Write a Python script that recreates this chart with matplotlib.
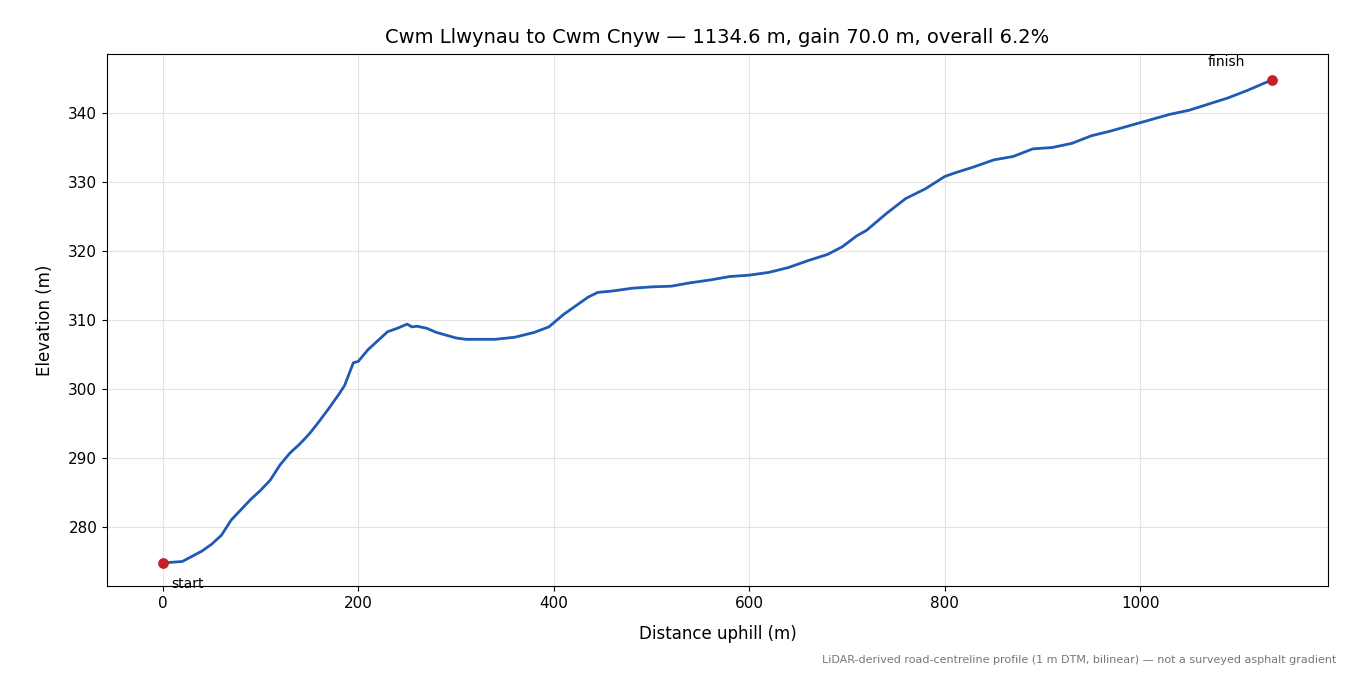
import matplotlib
matplotlib.use("Agg")
import matplotlib.pyplot as plt

dist = [0,20,40,50,60,70,80,90,100,110,120,130,140,150,160,170,180,186,195,200,210,220,230,240,250,255,260,270,280,290,300,310,320,340,360,380,395,410,420,435,445,460,480,500,520,540,560,580,600,620,640,660,680,695,710,720,740,760,780,800,810,830,850,870,890,910,930,950,970,990,1010,1030,1050,1070,1090,1110,1134.6]
elev = [274.8,275.0,276.5,277.5,278.8,281,282.5,284,285.3,286.8,289,290.7,292,293.5,295.3,297.2,299.2,300.5,303.8,304,305.7,307,308.3,308.8,309.4,309.0,309.1,308.8,308.2,307.8,307.4,307.2,307.2,307.2,307.5,308.2,309,310.8,311.8,313.3,314,314.2,314.6,314.8,314.9,315.4,315.8,316.3,316.5,316.9,317.6,318.6,319.5,320.6,322.2,323,325.4,327.6,329,330.8,331.3,332.2,333.2,333.7,334.8,335,335.6,336.7,337.4,338.2,339,339.8,340.4,341.3,342.2,343.3,344.8]

fig = plt.figure(figsize=(13.5, 6.75), dpi=100)
ax = fig.add_axes([107/1350, 1-586/675, (1328-107)/1350, (586-54)/675])
ax.plot(dist, elev, color="#1f5bb5", lw=2)
ax.scatter([dist[0], dist[-1]], [elev[0], elev[-1]], color="#c62026", s=45, zorder=5)
ax.annotate("start", (dist[0], elev[0]), xytext=(6, -18), textcoords="offset points", fontsize=10)
ax.annotate("finish", (dist[-1], elev[-1]), xytext=(-46, 10), textcoords="offset points", fontsize=10)
ax.set_xlim(-57, 1192)
ax.set_ylim(271.45, 348.55)
ax.grid(True, color="#e3e3e3", lw=0.8)
ax.tick_params(labelsize=11)
ax.set_xlabel("Distance uphill (m)", fontsize=12, labelpad=10)
ax.set_ylabel("Elevation (m)", fontsize=12, labelpad=10)
ax.set_title("Cwm Llwynau to Cwm Cnyw — 1134.6 m, gain 70.0 m, overall 6.2%", fontsize=14, pad=8)
fig.text(1336/1350, 1-660/675, "LiDAR-derived road-centreline profile (1 m DTM, bilinear) — not a surveyed asphalt gradient",
         ha="right", va="center", fontsize=8, color="#777777")
fig.savefig("out.png", dpi=100)
